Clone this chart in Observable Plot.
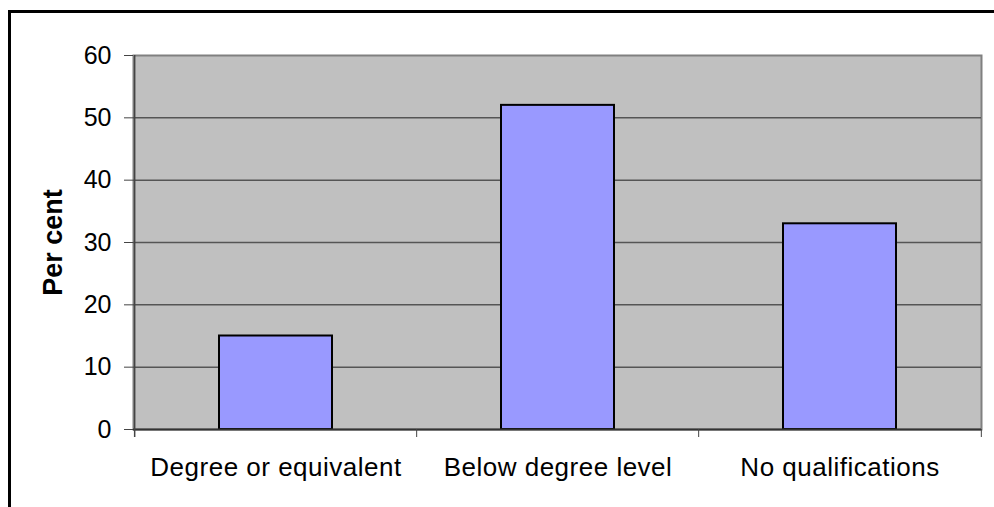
<!DOCTYPE html>
<html>
<head>
<meta charset="utf-8">
<script src="https://cdn.jsdelivr.net/npm/d3@7"></script>
<script src="https://cdn.jsdelivr.net/npm/@observablehq/plot@0.6"></script>
<style>
  html, body { margin: 0; padding: 0; background: #fff; overflow: hidden; }
  #wrap { position: relative; width: 994px; height: 507px; }
  #border { position: absolute; left: 8px; top: 10px; width: 1000px; height: 600px;
            border-left: 3px solid #000; border-top: 3px solid #000; pointer-events: none; }
  .xlab text { letter-spacing: 0.5px; }
</style>
</head>
<body>
<div id="wrap"><div id="chart"></div><div id="border"></div></div>
<script>
const categories = ["Degree or equivalent", "Below degree level", "No qualifications"];
const values = [15, 52, 33];
const yTicks = [0, 10, 20, 30, 40, 50, 60];
const yLabel = "Per cent";

const W = 994, H = 507, ML = 133, MR = 13, MT = 55, MB = 78;
const step = (W - ML - MR) / categories.length;
const data = categories.map((c, i) => ({ c, v: values[i] }));

const chart = Plot.plot({
  width: W, height: H,
  marginLeft: ML, marginRight: MR, marginTop: MT, marginBottom: MB,
  style: { fontFamily: "'Liberation Sans', Arial, sans-serif", fontSize: "25px", color: "black", background: "white" },
  x: { domain: categories, paddingInner: 0.6, paddingOuter: 0.3, label: null },
  y: { domain: [0, 60], label: null },
  marks: [
    Plot.frame({ fill: "#c0c0c0", stroke: "#808080", strokeWidth: 2 }),
    Plot.ruleY(yTicks.filter(t => t > 0 && t < 60), { stroke: "#555", strokeWidth: 1.5 }),
    Plot.barY(data, { x: "c", y: "v", fill: "#9999ff", stroke: "#000", strokeWidth: 2 }),
    Plot.ruleY([0], { stroke: "#333", strokeWidth: 2 }),
    Plot.ruleX([categories[0]], { dx: -step / 2, stroke: "#444", strokeWidth: 1.5, insetBottom: -8 }),
    Plot.ruleX(categories.slice(1), { dx: -step / 2, stroke: "#444", strokeWidth: 1, insetTop: H - MT - MB, insetBottom: -8 }),
    Plot.ruleX([categories[categories.length - 1]], { dx: step / 2, stroke: "#444", strokeWidth: 1, insetTop: H - MT - MB, insetBottom: -8 }),
    Plot.axisY({ ticks: yTicks, tickFormat: d3.format("d"), tickSize: 9, tickPadding: 13, stroke: "#444" }),
    Plot.axisX({ tickSize: 0, tickPadding: 28, fontSize: 26, className: "xlab" }),
    Plot.text([yLabel], { text: d => d, frameAnchor: "left", textAnchor: "middle", rotate: -90, dx: -80, fontWeight: "bold", fontSize: 27 })
  ]
});
document.getElementById("chart").appendChild(chart);
</script>
</body>
</html>
